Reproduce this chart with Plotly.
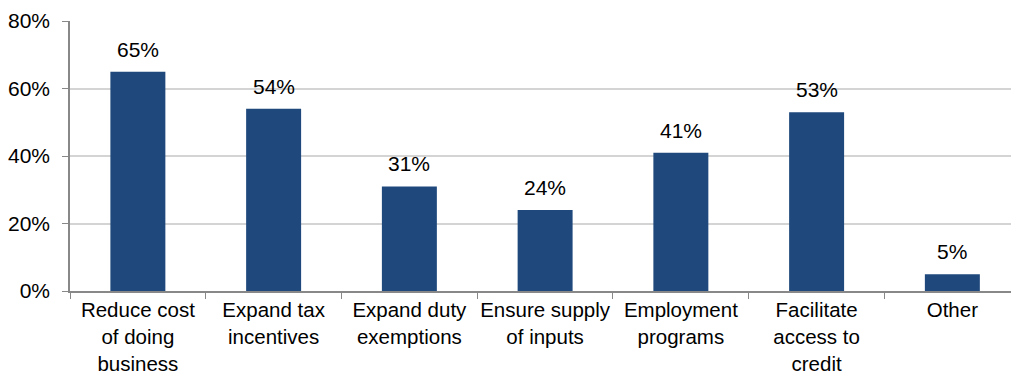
import plotly.graph_objects as go

BAR_COLOR = "#1F497D"
GRID_COLOR = "#D4D4D4"
AXIS_COLOR = "#888888"
FONT = "Liberation Sans, Arial, sans-serif"

categories = [
    "Reduce cost<br>of doing<br>business",
    "Expand tax<br>incentives",
    "Expand duty<br>exemptions",
    "Ensure supply<br>of inputs",
    "Employment<br>programs",
    "Facilitate<br>access to<br>credit",
    "Other",
]
values = [65, 54, 31, 24, 41, 53, 5]
y_ticks = [0, 20, 40, 60, 80]
y_tick_text = ["0%", "20%", "40%", "60%", "80%"]

fig = go.Figure(
    go.Bar(
        x=categories,
        y=values,
        marker_color=BAR_COLOR,
        marker_line_width=0,
        hoverinfo="skip",
    )
)

# value labels sit a bit higher above the bars than plotly's outside text
for cat, val in zip(categories, values):
    fig.add_annotation(
        x=cat,
        y=val,
        text=f"{val}%",
        showarrow=False,
        yanchor="bottom",
        yshift=9,
        font=dict(family=FONT, size=21, color="#000000"),
    )

fig.update_layout(
    width=1011,
    height=374,
    margin=dict(l=70, r=0, t=21, b=83),
    paper_bgcolor="white",
    plot_bgcolor="white",
    bargap=0.595,
    showlegend=False,
    font=dict(family=FONT, size=20, color="#000000"),
)
fig.update_xaxes(
    range=[-0.5, 6.432],
    automargin=False,
    showline=True,
    linecolor=AXIS_COLOR,
    linewidth=1.5,
    ticks="outside",
    tickson="boundaries",
    ticklen=6,
    tickcolor=AXIS_COLOR,
    tickangle=0,
    tickfont=dict(size=20.5),
    showgrid=False,
    fixedrange=True,
)
fig.update_yaxes(
    range=[0, 80],
    automargin=False,
    tickmode="array",
    tickvals=y_ticks,
    ticktext=y_tick_text,
    showline=True,
    linecolor=AXIS_COLOR,
    linewidth=1.5,
    ticks="outside",
    ticklen=6,
    tickcolor=AXIS_COLOR,
    tickfont=dict(size=21),
    ticklabelstandoff=8,
    showgrid=True,
    gridcolor=GRID_COLOR,
    gridwidth=1.5,
    zeroline=False,
    fixedrange=True,
)

# drop the browser's default 8px body margin so the figure fills the window
fig.write_html(
    "out.html",
    config={"displayModeBar": False},
    post_script="document.body.style.margin = '0';",
)
